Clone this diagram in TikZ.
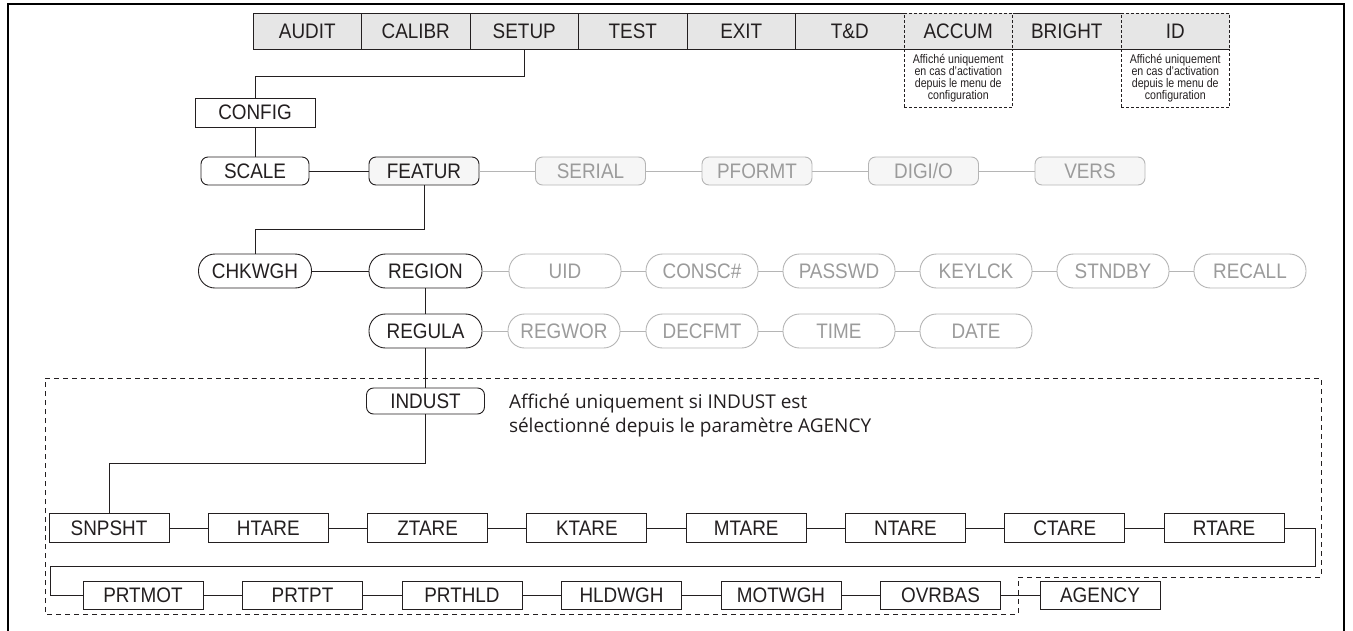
\documentclass[tikz,border=0pt]{standalone}
\usepackage{fontspec}
\setmainfont{Liberation Sans}[FakeStretch=0.9]
\newfontfamily\smallcond{Liberation Sans}[FakeStretch=0.85]
\newfontfamily\notefont{Open Sans}
\definecolor{ink}{HTML}{231F20}
\definecolor{barfill}{HTML}{E6E6E6}
\definecolor{ghost}{HTML}{B5B5B5}
\definecolor{ghosttext}{HTML}{9B9B9B}
\definecolor{lightfill}{HTML}{F6F6F6}
\begin{document}
\begin{tikzpicture}[x=1pt,y=-1pt,
  every node/.style={inner sep=0pt, outer sep=0pt, font=\fontsize{21}{21}\selectfont, text=ink},
  bar/.style={draw=ink, line width=0.9pt, fill=barfill, minimum width=108.5pt, minimum height=36pt},
  dbar/.style={bar, dash pattern=on 3pt off 2pt},
  notebox/.style={draw=ink, line width=0.9pt, dash pattern=on 3pt off 2pt, minimum width=108.5pt, minimum height=58pt, align=center, font=\smallcond\fontsize{12.5}{12}\selectfont},
  sqbox/.style={draw=ink, line width=0.9pt, fill=white, minimum width=120pt, minimum height=29pt},
  rbox/.style={draw=ink, line width=0.9pt, fill=white, rounded corners=7pt, minimum width=108pt, minimum height=28pt},
  gbox/.style={draw=ghost, text=ghosttext, fill=lightfill, line width=0.9pt, rounded corners=7pt, minimum width=110pt, minimum height=28pt},
  pill/.style={draw=ink, line width=0.9pt, fill=white, rounded corners=16.5pt, minimum width=113pt, minimum height=34pt},
  gpill/.style={draw=ghost, text=ghosttext, fill=white, line width=0.9pt, rounded corners=16.5pt, minimum width=112pt, minimum height=34pt},
  link/.style={draw=ink, line width=0.9pt},
  glink/.style={draw=ghost, line width=0.9pt},
  region/.style={draw=ink, line width=0.9pt, dash pattern=on 5pt off 4pt},
  frame/.style={draw=black, line width=2.5pt}
]
\useasboundingbox (0,0) rectangle (1353,630);
% outer frame
\draw[frame] (8,640) -- (8,4) -- (1344,4) -- (1344,640);
% dashed region
\draw[region] (45,378) -- (1321,378) -- (1321,577) -- (1018,577) -- (1018,614) -- (45,614) -- cycle;

% top bar
\node[bar] (audit) at (307.25,31) {AUDIT};
\node[bar] (calibr) at (415.75,31) {CALIBR};
\node[bar] (setup) at (524.25,31) {SETUP};
\node[bar] (test) at (632.75,31) {TEST};
\node[bar] (exit) at (741.25,31) {EXIT};
\node[bar] (td) at (849.75,31) {T\&D};
\node[bar] (bright) at (1066.75,31) {BRIGHT};
\node[dbar] (accum) at (958.25,31) {ACCUM};
\node[dbar] (id) at (1175.25,31) {ID};
\node[notebox, anchor=north] (accumnote) at (accum.south) {Affiché uniquement\\en cas d’activation\\depuis le menu de\\configuration};
\node[notebox, anchor=north] (idnote) at (id.south) {Affiché uniquement\\en cas d’activation\\depuis le menu de\\configuration};

% config
\node[sqbox] (config) at (255,112.5) {CONFIG};
\draw[link] (setup.south) -- ++(0,27) -| (config.north);

% row 2
\node[rbox] (scale) at (255,171) {SCALE};
\node[rbox, fill=lightfill, minimum width=110pt] (featur) at (424,171) {FEATUR};
\node[gbox] (serial) at (590.5,171) {SERIAL};
\node[gbox] (pformt) at (757,171) {PFORMT};
\node[gbox] (digio) at (923.5,171) {DIGI/O};
\node[gbox] (vers) at (1090,171) {VERS};
\draw[link] (config) -- (scale);
\draw[link] (scale) -- (featur);
\draw[glink] (featur) -- (serial) -- (pformt) -- (digio) -- (vers);

% row 3
\node[pill] (chkwgh) at (255,271) {CHKWGH};
\node[pill] (region) at (425.5,271) {REGION};
\node[gpill] (uid) at (565,271) {UID};
\node[gpill] (consc) at (702,271) {CONSC\#};
\node[gpill] (passwd) at (839,271) {PASSWD};
\node[gpill] (keylck) at (976,271) {KEYLCK};
\node[gpill] (stndby) at (1113,271) {STNDBY};
\node[gpill] (recall) at (1250,271) {RECALL};
\draw[link] (featur.south) -- ++(0,44) -| (chkwgh.north);
\draw[link] (chkwgh) -- (region);
\draw[glink] (region) -- (uid) -- (consc) -- (passwd) -- (keylck) -- (stndby) -- (recall);

% row regula
\node[pill] (regula) at (425.5,331) {REGULA};
\node[gpill] (regwor) at (564,331) {REGWOR};
\node[gpill] (decfmt) at (702,331) {DECFMT};
\node[gpill] (time) at (839,331) {TIME};
\node[gpill] (date) at (976,331) {DATE};
\draw[link] (region) -- (regula);
\draw[glink] (regula) -- (regwor) -- (decfmt) -- (time) -- (date);

% indust
\node[rbox, minimum width=118pt, minimum height=26pt] (indust) at (425.5,401) {INDUST};
\draw[link] (regula) -- (indust);
\node[anchor=west, align=left, font=\notefont\fontsize{19}{24}\selectfont] (indnote) at (509,415) {Affiché uniquement si INDUST est\\sélectionné depuis le paramètre AGENCY};

% row 4
\node[sqbox] (snpsht) at (109,528) {SNPSHT};
\node[sqbox] (htare) at (268.3,528) {HTARE};
\node[sqbox] (ztare) at (427.6,528) {ZTARE};
\node[sqbox] (ktare) at (586.9,528) {KTARE};
\node[sqbox] (mtare) at (746.2,528) {MTARE};
\node[sqbox] (ntare) at (905.5,528) {NTARE};
\node[sqbox] (ctare) at (1064.8,528) {CTARE};
\node[sqbox] (rtare) at (1224.1,528) {RTARE};
\draw[link] (indust.south) -- ++(0,49) -| (snpsht.north);
\draw[link] (snpsht) -- (htare) -- (ztare) -- (ktare) -- (mtare) -- (ntare) -- (ctare) -- (rtare);

% row 5
\node[sqbox, minimum height=28pt] (prtmot) at (143,595) {PRTMOT};
\node[sqbox, minimum height=28pt] (prtpt) at (302.5,595) {PRTPT};
\node[sqbox, minimum height=28pt] (prthld) at (462,595) {PRTHLD};
\node[sqbox, minimum height=28pt] (hldwgh) at (621.5,595) {HLDWGH};
\node[sqbox, minimum height=28pt] (motwgh) at (781,595) {MOTWGH};
\node[sqbox, minimum height=28pt] (ovrbas) at (940.5,595) {OVRBAS};
\node[sqbox, minimum height=28pt] (agency) at (1100,595) {AGENCY};
\coordinate (wrapR) at (1315,566);
\coordinate (wrapL) at (50,566);
\draw[link] (rtare.east) -| (wrapR) -- (wrapL) |- (prtmot.west);
\draw[link] (prtmot) -- (prtpt) -- (prthld) -- (hldwgh) -- (motwgh) -- (ovrbas) -- (agency);
\end{tikzpicture}
\end{document}
